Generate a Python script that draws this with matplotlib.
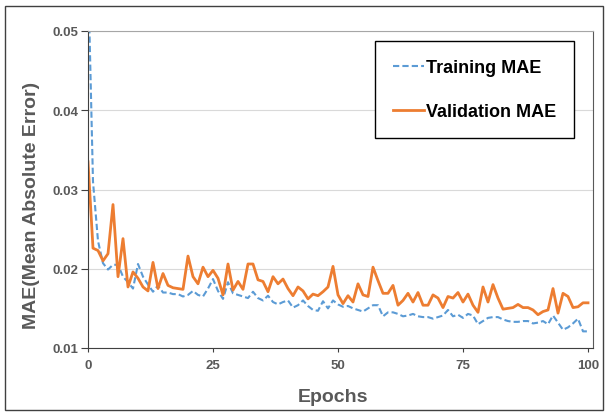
import numpy as np
import matplotlib
matplotlib.use("Agg")
import matplotlib.pyplot as plt
from matplotlib.patches import Rectangle

plt.rcParams['font.family'] = ['Liberation Sans', 'DejaVu Sans']

epochs = np.arange(0, 101)

training_mae = [
    0.058, 0.031, 0.0235, 0.0207, 0.0199, 0.0205, 0.0205, 0.0190, 0.0183, 0.0175,
    0.0206, 0.0190, 0.0180, 0.0171, 0.0179, 0.0170, 0.0170, 0.0168, 0.0168, 0.0165,
    0.0167, 0.0172, 0.0167, 0.0165, 0.0175, 0.0187, 0.0172, 0.0162, 0.0183, 0.0169,
    0.0167, 0.0165, 0.0163, 0.0171, 0.0163, 0.0160, 0.0166, 0.0158, 0.0155, 0.0158,
    0.0160, 0.0151, 0.0154, 0.0160, 0.0153, 0.0148, 0.0147, 0.0159, 0.0150, 0.0160,
    0.0155, 0.0152, 0.0153, 0.0150, 0.0148, 0.0146, 0.0150, 0.0154, 0.0154, 0.0140,
    0.0145, 0.0145, 0.0143, 0.0140, 0.0141, 0.0143, 0.0140, 0.0139, 0.0139, 0.0137,
    0.0139, 0.0141, 0.0148, 0.0140, 0.0142, 0.0138, 0.0143, 0.0141, 0.0130, 0.0134,
    0.0138, 0.0139, 0.0139, 0.0136, 0.0134, 0.0133, 0.0133, 0.0134, 0.0134, 0.0131,
    0.0132, 0.0134, 0.0130, 0.0141, 0.0132, 0.0123, 0.0126, 0.0131, 0.0137, 0.0121,
    0.0121,
]

validation_mae = [
    0.0335, 0.0226, 0.0223, 0.0210, 0.0219, 0.0281, 0.0190, 0.0238, 0.0177, 0.0196,
    0.0188, 0.0177, 0.0172, 0.0208, 0.0175, 0.0194, 0.0179, 0.0176, 0.0175, 0.0174,
    0.0216, 0.0190, 0.0181, 0.0202, 0.0190, 0.0198, 0.0188, 0.0167, 0.0206, 0.0173,
    0.0184, 0.0174, 0.0206, 0.0206, 0.0186, 0.0184, 0.0171, 0.0190, 0.0181, 0.0187,
    0.0175, 0.0166, 0.0177, 0.0172, 0.0162, 0.0168, 0.0166, 0.0171, 0.0177, 0.0203,
    0.0167, 0.0156, 0.0166, 0.0158, 0.0181, 0.0167, 0.0165, 0.0202, 0.0185, 0.0169,
    0.0169, 0.0179, 0.0154, 0.0160, 0.0169, 0.0158, 0.0170, 0.0154, 0.0154, 0.0167,
    0.0163, 0.0151, 0.0165, 0.0163, 0.0170, 0.0158, 0.0168, 0.0154, 0.0145, 0.0177,
    0.0158, 0.0180, 0.0163, 0.0149, 0.0150, 0.0151, 0.0155, 0.0151, 0.0151, 0.0148,
    0.0142, 0.0146, 0.0148, 0.0175, 0.0144, 0.0169, 0.0165, 0.0151, 0.0152, 0.0157,
    0.0157,
]

x_ticks = [0, 25, 50, 75, 100]
y_ticks = [0.01, 0.02, 0.03, 0.04, 0.05]

gray_text = '#595959'

fig = plt.figure(figsize=(6.06, 4.14), dpi=100)
ax = fig.add_axes([88 / 606, 1 - 349 / 414, 505 / 606, 317 / 414])

ax.plot(epochs, training_mae, color='#5B9BD5', lw=1.5, dashes=(3, 1.5),
        label='Training MAE')
ax.plot(epochs, validation_mae, color='#ED7D31', lw=2, label='Validation MAE')

ax.set_xlim(0, 101)
ax.set_ylim(0.01, 0.05)
ax.set_xticks(x_ticks)
ax.set_yticks(y_ticks)
ax.set_yticklabels(['%.2f' % v for v in y_ticks])
ax.grid(axis='y', color='#D9D9D9', lw=0.8)
ax.set_axisbelow(True)

for lab in ax.get_xticklabels() + ax.get_yticklabels():
    lab.set_fontweight('bold')
    lab.set_color(gray_text)
    lab.set_fontsize(9.5)
ax.tick_params(axis='x', direction='out', length=3, pad=5, color='#404040')
ax.tick_params(axis='y', direction='out', length=5, pad=2, color='#404040')

ax.spines['left'].set_color('#404040')
ax.spines['bottom'].set_color('#404040')
ax.spines['top'].set_color('#A6A6A6')
ax.spines['right'].set_color('#595959')

ax.set_ylabel('MAE(Mean Absolute Error)', fontsize=14, fontweight='bold',
              color=gray_text)
ax.yaxis.set_label_coords(-0.111, 0.454)
ax.set_xlabel('Epochs', fontsize=14, fontweight='bold', color=gray_text)
ax.xaxis.set_label_coords((333 - 88) / 505, (349 - 398) / 317)
ax.xaxis.label.set_va('center')
ax.yaxis.label.set_va('center')

leg = fig.legend(loc='upper left', bbox_to_anchor=(375 / 606, 1 - 42 / 414),
                 prop={'weight': 'bold', 'size': 13}, frameon=True,
                 fancybox=False, framealpha=1, edgecolor='black',
                 borderpad=1.0, labelspacing=1.5, handlelength=1.7,
                 handletextpad=0.1, borderaxespad=0)
leg.get_frame().set_linewidth(1)

fig.patches.append(Rectangle((5 / 606, 3 / 414), 598 / 606, 404 / 414,
                             transform=fig.transFigure, fill=False,
                             edgecolor='#404040', lw=1))

fig.savefig('out.png', dpi=100)
